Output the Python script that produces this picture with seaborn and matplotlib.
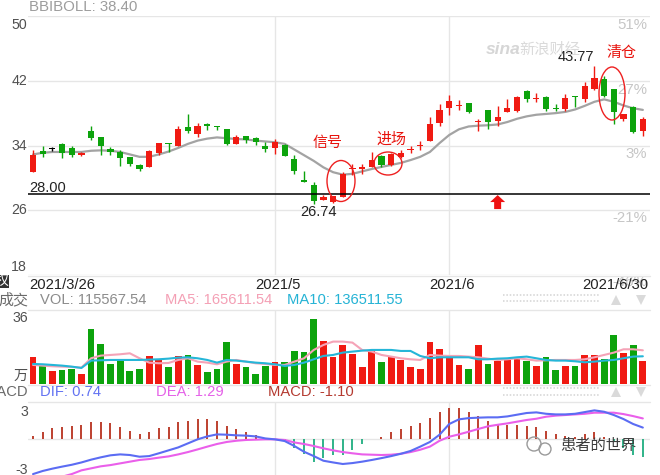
import numpy as np
import pandas as pd
import matplotlib
matplotlib.use("Agg")
import matplotlib.pyplot as plt
from matplotlib.patches import Ellipse, Polygon, Rectangle, Circle
import seaborn as sns

# ---------------- data ----------------
holidays = ["2021-04-05", "2021-05-03", "2021-05-04", "2021-05-05", "2021-06-14"]
dates = pd.bdate_range("2021-03-26", "2021-06-30", freq="C", holidays=holidays)
label_months = [5, 6]

open_ = [30.71, 33.38, 33.60, 34.20, 33.70, 32.77, 35.76, 35.00, 33.60, 33.20,
         32.56, 31.60, 31.33, 33.10, 34.30, 34.00, 36.34, 35.44, 36.67, 36.46,
         36.05, 34.20, 35.23, 34.95, 34.00, 33.70, 34.10, 32.36, 29.70, 29.10,
         27.32, 27.05, 27.60, 31.10, 31.15, 31.33, 32.65, 31.60, 32.56, 33.50,
         33.90, 34.50, 36.75, 38.60, 38.85, 39.25, 36.95, 38.43, 36.99, 38.10,
         38.30, 40.77, 39.80, 40.00, 38.65, 38.50, 40.15, 39.75, 40.98, 42.20,
         40.98, 37.30, 38.70, 35.85]
high = [33.40, 33.90, 33.85, 34.25, 34.00, 33.25, 36.40, 35.05, 33.80, 33.40,
        32.56, 31.75, 33.50, 34.35, 34.30, 36.46, 37.90, 36.74, 36.74, 36.46,
        36.10, 35.30, 35.23, 35.00, 34.40, 34.80, 34.20, 32.77, 30.90, 29.50,
        27.85, 27.80, 30.70, 31.75, 31.75, 33.20, 32.80, 33.10, 33.40, 34.00,
        34.60, 37.50, 39.13, 40.30, 39.60, 39.25, 37.30, 38.43, 38.90, 39.75,
        40.10, 40.90, 40.50, 40.15, 39.10, 40.35, 40.15, 41.80, 43.77, 42.60,
        41.00, 37.90, 38.90, 37.57]
low = [30.71, 32.56, 33.30, 32.40, 32.56, 32.75, 34.70, 32.77, 32.85, 31.50,
       31.45, 30.90, 31.30, 32.85, 33.20, 33.90, 35.60, 35.10, 35.90, 35.90,
       34.10, 34.20, 34.30, 34.10, 33.20, 33.00, 32.70, 30.50, 29.50, 26.74,
       27.30, 26.95, 27.60, 30.30, 30.50, 31.33, 31.40, 31.50, 32.40, 33.05,
       33.40, 34.50, 36.46, 37.80, 38.40, 37.97, 35.85, 36.05, 36.46, 38.10,
       38.10, 39.35, 39.35, 38.30, 38.30, 38.30, 38.70, 39.35, 40.90, 40.00,
       36.67, 37.05, 35.50, 35.23]
close = [32.77, 32.98, 33.60, 33.10, 32.77, 33.05, 34.90, 33.90, 33.20, 32.40,
         31.66, 31.05, 33.26, 34.30, 34.20, 36.05, 35.85, 36.46, 36.38, 36.30,
         34.20, 35.00, 34.70, 34.40, 33.60, 34.40, 32.70, 30.90, 29.50, 27.20,
         27.64, 27.72, 30.50, 31.20, 31.35, 32.15, 31.55, 33.00, 33.10, 33.60,
         34.05, 36.67, 38.40, 39.50, 38.95, 38.20, 37.05, 36.87, 37.48, 38.64,
         39.95, 39.75, 39.90, 38.50, 38.50, 39.85, 39.95, 41.40, 42.40, 40.15,
         38.10, 37.90, 35.64, 37.30]
bbi = [32.90, 33.10, 33.20, 33.20, 33.20, 33.20, 33.35, 33.40, 33.35, 33.20,
       32.90, 32.60, 32.60, 32.90, 33.25, 33.70, 34.20, 34.60, 34.85, 35.00,
       34.90, 34.80, 34.75, 34.60, 34.50, 34.40, 34.20, 33.50, 32.80, 32.10,
       31.30, 30.70, 30.40, 30.50, 30.80, 31.10, 31.35, 31.60, 31.85, 32.20,
       32.60, 33.20, 34.30, 35.30, 36.00, 36.35, 36.45, 36.50, 36.60, 36.90,
       37.30, 37.60, 37.80, 37.90, 38.00, 38.15, 38.45, 38.90, 39.40, 39.70,
       39.40, 38.95, 38.60, 38.40]
# volume in 万
volume = [13.2, 9.4, 6.5, 7.0, 7.5, 5.0, 27.0, 19.7, 9.9, 11.5,
          6.5, 7.5, 13.8, 11.9, 8.3, 13.8, 14.3, 9.4, 5.85, 7.5,
          20.5, 9.9, 8.3, 5.0, 8.9, 10.7, 10.7, 16.2, 15.6, 31.8,
          21.1, 13.2, 19.2, 14.8, 8.3, 16.2, 10.7, 13.2, 11.9, 8.3,
          7.5, 20.5, 17.2, 14.3, 9.4, 7.5, 19.2, 9.9, 11.5, 11.9,
          12.7, 11.4, 8.9, 13.2, 7.0, 8.9, 9.1, 14.3, 14.3, 12.4,
          24.1, 15.4, 19.2, 11.56]
vol_ma5 = [9.43, 9.10, 8.78, 8.61, 8.45, 8.13, 12.68, 13.98, 14.30, 14.63,
           15.11, 12.68, 10.56, 10.24, 10.40, 11.86, 12.68, 11.05, 10.56, 9.75,
           11.05, 11.86, 11.05, 10.24, 9.91, 9.43, 9.43, 11.05, 12.68, 16.74,
           19.18, 20.80, 20.80, 20.31, 16.74, 15.93, 14.30, 13.49, 12.68, 12.19,
           11.86, 14.30, 13.98, 13.81, 13.81, 13.49, 13.16, 12.51, 11.86, 12.19,
           12.68, 12.19, 11.54, 11.70, 11.86, 11.86, 11.86, 12.19, 13.16, 14.30,
           15.44, 17.06, 17.06, 16.56]
vol_ma10 = [9.91, 9.75, 9.43, 9.10, 8.61, 7.96, 11.54, 11.70, 11.86, 11.86,
            11.86, 11.86, 12.03, 12.19, 12.51, 13.00, 13.16, 12.68, 11.86, 10.56,
            11.86, 11.54, 11.05, 10.56, 10.24, 9.75, 8.94, 9.43, 10.56, 12.19,
            13.81, 14.30, 15.44, 15.93, 16.41, 16.74, 16.74, 16.74, 16.25, 16.25,
            13.81, 12.68, 13.16, 13.16, 13.16, 13.16, 12.19, 12.19, 12.51, 12.68,
            13.16, 13.49, 12.68, 11.86, 11.54, 11.54, 11.21, 10.73, 11.05, 11.54,
            11.86, 12.68, 13.49, 13.65]
dif = [-2.26, -2.06, -1.91, -1.78, -1.66, -1.51, -1.33, -1.18, -1.05, -0.99,
       -1.03, -1.14, -1.10, -0.92, -0.73, -0.54, -0.28, -0.02, 0.17, 0.30,
       0.28, 0.24, 0.22, 0.17, 0.04, -0.02, -0.13, -0.45, -0.82, -1.10,
       -1.40, -1.51, -1.61, -1.55, -1.46, -1.35, -1.23, -1.10, -0.95, -0.77,
       -0.49, -0.19, 0.28, 0.97, 1.27, 1.35, 1.38, 1.40, 1.40, 1.46,
       1.57, 1.68, 1.72, 1.63, 1.59, 1.59, 1.63, 1.74, 1.85, 1.76,
       1.55, 1.29, 0.97, 0.74]
dea = [-2.75, -2.65, -2.54, -2.43, -2.26, -2.02, -1.89, -1.76, -1.68, -1.57,
       -1.46, -1.35, -1.29, -1.20, -1.12, -0.99, -0.84, -0.67, -0.49, -0.32,
       -0.19, -0.11, -0.06, -0.04, -0.02, -0.02, -0.06, -0.22, -0.32, -0.45,
       -0.60, -0.73, -0.84, -0.92, -0.99, -1.01, -1.03, -1.01, -0.95, -0.84,
       -0.69, -0.49, -0.11, 0.15, 0.30, 0.47, 0.65, 0.82, 0.92, 1.01,
       1.12, 1.23, 1.31, 1.44, 1.51, 1.55, 1.59, 1.63, 1.70, 1.70,
       1.70, 1.61, 1.48, 1.33]
macd = [0.19, 0.43, 0.69, 0.80, 0.86, 0.90, 1.12, 1.12, 1.01, 0.80,
        0.52, 0.30, 0.43, 0.69, 0.80, 1.08, 1.16, 1.29, 1.29, 1.16,
        0.86, 0.65, 0.47, 0.26, 0.04, -0.02, -0.17, -0.60, -0.97, -1.46,
        -1.25, -1.03, -1.03, -0.71, -0.32, -0.02, 0.10, 0.43, 0.62, 0.86,
        1.01, 1.38, 1.76, 1.98, 2.02, 1.76, 1.48, 1.16, 0.95, 0.90,
        0.90, 0.84, 0.80, 0.52, 0.30, 0.22, 0.15, 0.30, 0.47, 0.15,
        -0.10, -0.60, -1.00, -1.14]
price_ticks = [50, 42, 34, 26, 18]
pct_labels = ["51%", "27%", "3%", "-21%", "-46%"]
support = 28.00
bbi_last = 38.40
vol_last, ma5_last, ma10_last = 115567.54, 165611.54, 136511.55
dif_last, dea_last, macd_last = 0.74, 1.29, -1.10

# ---------------- style ----------------
sns.set_style("white")
plt.rcParams["font.family"] = ["Liberation Sans", "Noto Sans CJK SC", "DejaVu Sans"]
plt.rcParams["axes.unicode_minus"] = False

RED = "#f01a12"
GREEN = "#0ca30c"
GRID = "#e6e6e6"
W, H = 660, 475
fig = plt.figure(figsize=(W / 100, H / 100), dpi=100)
fig.patch.set_facecolor("white")


def rect(x0, y0, x1, y1):
    return [x0 / W, 1 - y1 / H, (x1 - x0) / W, (y1 - y0) / H]


ax = fig.add_axes(rect(28, 16, 650, 275))
axv = fig.add_axes(rect(28, 310, 650, 384.3))
axm = fig.add_axes(rect(28, 402, 650, 475))
ov = fig.add_axes([0, 0, 1, 1], zorder=10)
ov.set_xlim(0, W)
ov.set_ylim(H, 0)
ov.set_axis_off()
ov.patch.set_alpha(0)

x = np.arange(len(close))
o = np.array(open_); c = np.array(close)
cols = [RED if cc > oo else (GREEN if cc < oo else "black") for oo, cc in zip(o, c)]
vcols = [RED if cc >= oo else GREEN for oo, cc in zip(o, c)]
month_starts = [i for i in range(1, len(dates))
                if dates[i].month != dates[i - 1].month and dates[i].month in label_months]

for a in (ax, axv, axm):
    a.set_axis_off()
    a.set_xlim(-0.52, 63.74)
    for m in month_starts:
        a.axvline(m, color=GRID, lw=1, zorder=0)

# main panel
ax.set_ylim(18, 50)
for p in price_ticks:
    ax.axhline(p, color=GRID, lw=1, zorder=0)
sns.lineplot(x=x, y=bbi, ax=ax, color="#a3a3a3", lw=1.6, zorder=2, legend=False)
ax.vlines(x, low, high, colors=cols, lw=1, zorder=3)
body_bot = np.minimum(o, c)
body_h = np.maximum(np.abs(c - o), 0.1)
ax.bar(x, body_h, bottom=body_bot, width=0.64, color=cols, linewidth=0, zorder=4)
ax.axhline(support, color="black", lw=1.1, zorder=5)
ax.set_axis_off()

# price labels
for k, p in enumerate(price_ticks):
    dy = -9 if k == 0 else (8 if k == len(price_ticks) - 1 else 0)
    ax.annotate(str(p), xy=(0, p), xycoords=("axes fraction", "data"),
                xytext=(-1, dy), textcoords="offset pixels", ha="right",
                va="center", fontsize=10.2, color="#505050")
    dyr = -7 if k == len(price_ticks) - 1 else (-9 if k < 2 else -8)
    ax.annotate(pct_labels[k], xy=(1, p), xycoords=("axes fraction", "data"),
                xytext=(-3, dyr), textcoords="offset pixels", ha="right",
                va="center", fontsize=10.8, color="#c6c6c6")

imax = int(np.argmax(high)); imin = int(np.argmin(low))
ax.annotate(f"{high[imax]:.2f}", xy=(imax, high[imax]), xytext=(-19, 9),
            textcoords="offset pixels", ha="center", va="center",
            fontsize=10.5, color="#222222", zorder=6)
ax.annotate(f"{low[imin]:.2f}", xy=(imin, low[imin]), xytext=(5, -8),
            textcoords="offset pixels", ha="center", va="center",
            fontsize=10.5, color="#222222")
ax.annotate(f"{support:.2f}", xy=(0, support), xycoords=("axes fraction", "data"),
            xytext=(1, 6), textcoords="offset pixels", ha="left", va="center",
            fontsize=10.5, color="#222222")

# date labels
date_lbls = [(0, dates[0].strftime("%Y/%-m/%-d"), "left", -4)]
for m in month_starts:
    date_lbls.append((m, f"{dates[m].year}/{dates[m].month}", "center", 2.5))
date_lbls.append((len(dates) - 1, dates[-1].strftime("%Y/%-m/%-d"), "right", 5.5))
for idx, t, ha, dx in date_lbls:
    ax.annotate(t, xy=(idx, 0), xycoords=("data", "axes fraction"),
                xytext=(dx, -10), textcoords="offset pixels", ha=ha,
                va="center", fontsize=10.6, color="#222222")

# volume panel
axv.set_ylim(0, 36.2)
axv.bar(x, volume, width=0.7, color=vcols, linewidth=0, zorder=2)
sns.lineplot(x=x, y=vol_ma5, ax=axv, color="#f5a3b7", lw=1.5, zorder=3, legend=False)
sns.lineplot(x=x, y=vol_ma10, ax=axv, color="#25b6d8", lw=1.5, zorder=3, legend=False)
axv.set_axis_off()

# macd panel
axm.set_ylim(-2.32, 2.39)
axm.axhline(0, color=GRID, lw=1, zorder=0)
mc = ["#b8321f" if v >= 0 else "#1fae80" for v in macd]
axm.vlines(x, 0, macd, colors=mc, lw=1.3, zorder=2)
sns.lineplot(x=x, y=dea, ax=axm, color="#ea5fea", lw=1.5, zorder=3, legend=False)
sns.lineplot(x=x, y=dif, ax=axm, color="#5b6cf3", lw=1.5, zorder=3, legend=False)
axm.set_axis_off()

# panel frame lines
for yy in (275.5, 310, 384.8, 402):
    ov.plot([28, 650], [yy, yy], color=GRID, lw=1)

# header texts
ov.text(29, 7, f"BBIBOLL: {bbi_last:.2f}", ha="left", va="center", fontsize=10.8, color="#9d9d9d")
ov.add_patch(Rectangle((0, 275), 8.5, 12.5, color="#333333", lw=0))
ov.text(8.5, 281, "权", ha="right", va="center", fontsize=10, color="white")
ov.text(28, 300, "成交", ha="right", va="center", fontsize=10.8, color="#6a6a6a")
ov.text(40.5, 300, f"VOL: {vol_last:.2f}", ha="left", va="center", fontsize=10.6, color="#8c8c8c")
ov.text(165, 300, f"MA5: {ma5_last:.2f}", ha="left", va="center", fontsize=10.6, color="#f4a0b5")
ov.text(287, 300, f"MA10: {ma10_last:.2f}", ha="left", va="center", fontsize=10.6, color="#25b3d5")
ov.text(28, 318, "36", ha="right", va="center", fontsize=10.2, color="#505050")
ov.text(28, 376, "万", ha="right", va="center", fontsize=10.2, color="#505050")
ov.text(28, 392.5, "MACD", ha="right", va="center", fontsize=10.6, color="#6a6a6a")
ov.text(40.5, 392.5, f"DIF: {dif_last:.2f}", ha="left", va="center", fontsize=10.6, color="#6272f2")
ov.text(156, 392.5, f"DEA: {dea_last:.2f}", ha="left", va="center", fontsize=10.6, color="#e562e8")
ov.text(268, 392.5, f"MACD: {macd_last:.2f}", ha="left", va="center", fontsize=10.6, color="#b43a30")
ov.text(28, 412, "3", ha="right", va="center", fontsize=10.2, color="#505050")
ov.text(28, 470, "-3", ha="right", va="center", fontsize=10.2, color="#505050")

# UI dotted bands and triangles
for ys, yt in (((295, 301), 299.5), ((388, 395), 391.5)):
    for yy in ys:
        ov.plot([503, 600], [yy, yy], color="#d3d3d3", lw=1.1, ls=(0, (1, 1.2)))
    ov.plot([616], [yt], marker="^", ms=7.5, color="#dadada", mew=0)
    ov.plot([641], [yt], marker="v", ms=7.5, color="#dadada", mew=0)

# watermarks
ov.text(486, 49, "sina", ha="left", va="center", fontsize=12.5, fontstyle="italic",
        fontweight="bold", color="#d6d6d6", zorder=0)
ov.text(519, 50, "新浪财经", ha="left", va="center", fontsize=11, color="#dadada", zorder=0)
ov.add_patch(Circle((534, 444), 7, fill=False, ec="#9a9a9a", lw=1))
ov.add_patch(Circle((545, 449), 6, fill=False, ec="#9a9a9a", lw=1))
ov.text(560, 446, "患者的世界", ha="left", va="center", fontsize=11, color="#3c3c3c")

# annotations
for (cx, cy, w, h) in ((341, 181, 28, 41), (388, 163.5, 28, 23), (612, 93.5, 26, 53)):
    ov.add_patch(Ellipse((cx, cy), w, h, fill=False, ec="#ee2020", lw=1))
ov.text(328, 143, "信号", ha="center", va="center", fontsize=10.8, color="#e8120c")
ov.text(391, 140, "进场", ha="center", va="center", fontsize=10.8, color="#e8120c")
ov.text(621, 53, "清仓", ha="center", va="center", fontsize=10.8, color="#e8120c")

fig.canvas.draw()
tx, ty = ax.transData.transform((48, support))
ty = H - ty
ov.add_patch(Polygon([(tx, ty + 1), (tx - 7.5, ty + 8), (tx - 3.5, ty + 8),
                      (tx - 3.5, ty + 15), (tx + 3.5, ty + 15), (tx + 3.5, ty + 8),
                      (tx + 7.5, ty + 8)], closed=True, color="#ee1111", lw=0))

fig.savefig("out.png", dpi=100)
